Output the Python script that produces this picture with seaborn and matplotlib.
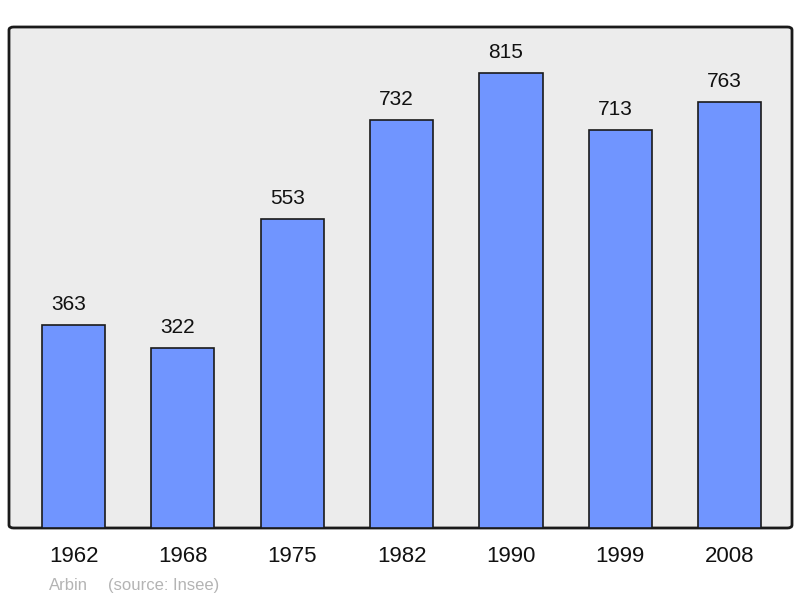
import numpy as np
import pandas as pd
import matplotlib
matplotlib.use("Agg")
import matplotlib.pyplot as plt
import seaborn as sns
from matplotlib.patches import FancyBboxPatch

years = ["1962", "1968", "1975", "1982", "1990", "1999", "2008"]
population = [363, 322, 553, 732, 815, 713, 763]
town = "Arbin"
source = "(source: Insee)"

df = pd.DataFrame({"Year": years, "Population": population})

sns.set_style("white")
plt.rcParams["font.family"] = ["Liberation Sans", "DejaVu Sans"]

fig = plt.figure(figsize=(8, 5.98), dpi=100)
ax = fig.add_axes([9 / 800, 1 - 528 / 598, 783 / 800, 501 / 598])
ax.set_facecolor("none")

# background box with slightly rounded corners
bg = FancyBboxPatch((0, 0), 1, 1, boxstyle="round,pad=0,rounding_size=0.006",
                    transform=ax.transAxes, facecolor="#ececec",
                    edgecolor="#1a1a1a", linewidth=2, zorder=0, clip_on=False)
ax.add_patch(bg)

sns.barplot(data=df, x="Year", y="Population", color="#7095ff",
            width=0.577, edgecolor="#1a1a1a", linewidth=1.2,
            saturation=1, ax=ax, zorder=2)

for i, v in enumerate(population):
    ax.text(i - 0.045, v + 27, str(v), ha="center", va="baseline",
            fontsize=15, color="#111111")

ax.set_xlim(-0.59, 6.57)
ax.set_ylim(0, 898)
for s in ax.spines.values():
    s.set_visible(False)
ax.set_yticks([])
ax.set_xlabel("")
ax.set_ylabel("")
ax.tick_params(axis="x", length=0, pad=13, labelsize=16, labelcolor="#111111")

fig.text(49 / 800, 1 - 590 / 598, town, fontsize=12, color="#b4b4b4", va="baseline")
fig.text(108 / 800, 1 - 590 / 598, source, fontsize=12, color="#b4b4b4", va="baseline")

fig.savefig("out.png", dpi=100)
